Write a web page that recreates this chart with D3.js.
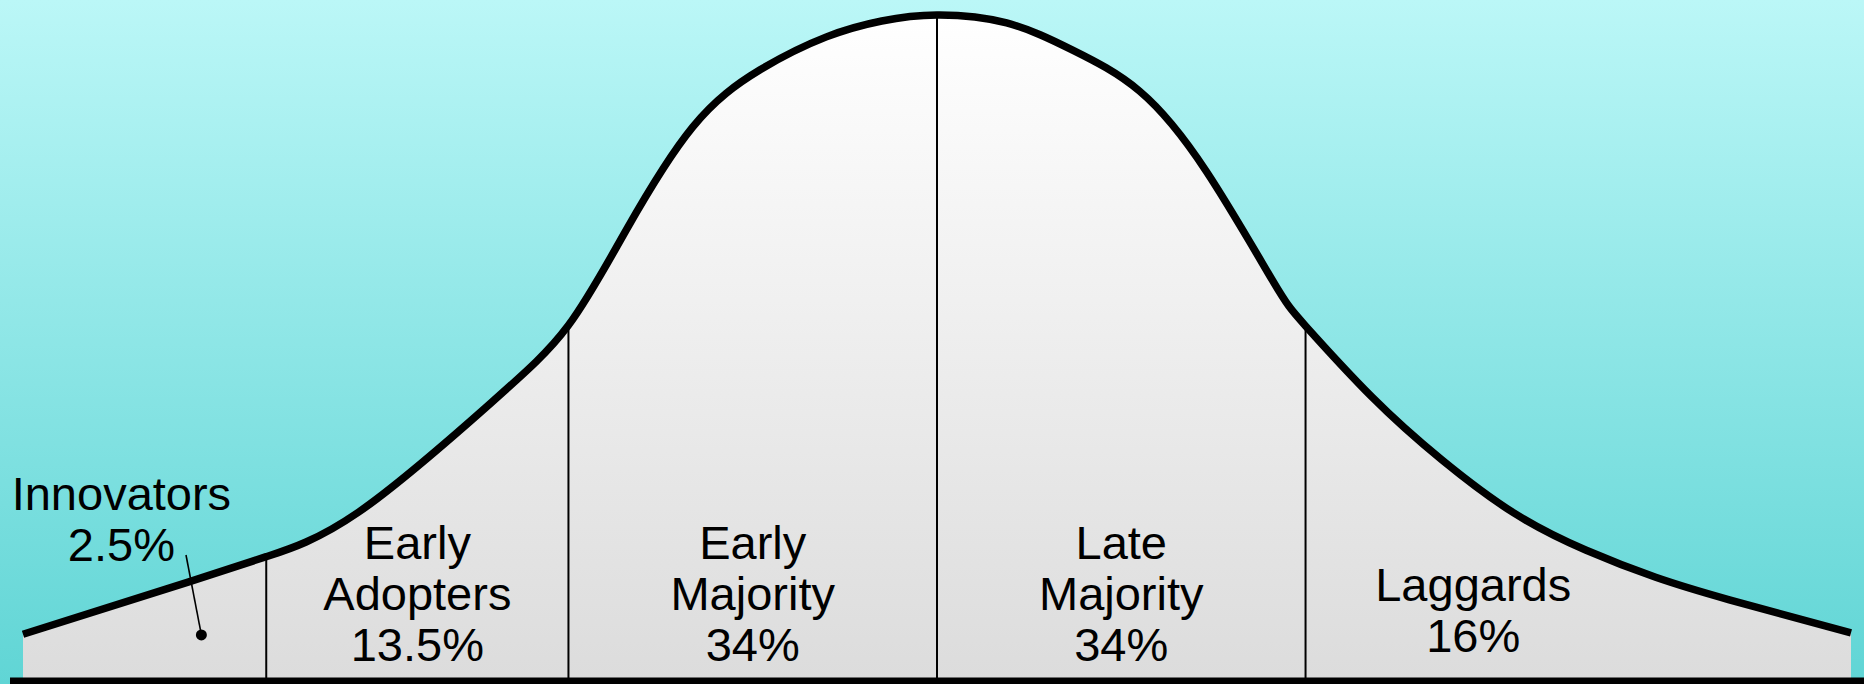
<!DOCTYPE html>
<html>
<head>
<meta charset="utf-8">
<script src="https://cdn.jsdelivr.net/npm/d3@7"></script>
<style>
  html, body { margin: 0; padding: 0; overflow: hidden; background: #fff; }
  svg { display: block; }
  text { font-family: "Liberation Sans", Arial, sans-serif; fill: #000; }
</style>
</head>
<body>
<svg id="chart"></svg>
<script>
// Adoption curve: x in standard deviations, y as share of peak height
const curveX = [-2.48, -2.03, -1.82, -1.57, -1.21, -1.00, -0.843, -0.663, -0.481, -0.30, -0.15, 0,
                0.189, 0.368, 0.55, 0.731, 0.91, 1.00, 1.18, 1.37, 1.565, 1.76, 1.95, 2.15, 2.48];
const curveY = [0.066, 0.145, 0.183, 0.250, 0.415, 0.532, 0.676, 0.831, 0.917, 0.967, 0.991, 1.0,
                0.988, 0.947, 0.885, 0.764, 0.600, 0.531, 0.424, 0.329, 0.249, 0.193, 0.152, 0.118, 0.068];

// segment boundaries (same x units)
const dividers = [-1.82, -1, 0, 1];

const groups = [["Innovators"], ["Early", "Adopters"], ["Early", "Majority"], ["Late", "Majority"], ["Laggards"]];
const shares = ["2.5%", "13.5%", "34%", "34%", "16%"];

(function(){
  const W = 1864, H = 684;
  const svg = d3.select('#chart').attr('width', W).attr('height', H);

  const x = d3.scaleLinear().domain([-2.48, 2.48]).range([23, 1851]);
  const y = d3.scaleLinear().domain([0, 1]).range([678, 15]);

  const defs = svg.append('defs');
  const bg = defs.append('linearGradient').attr('id', 'bg')
    .attr('x1', 0).attr('y1', 0).attr('x2', 0).attr('y2', 1);
  bg.append('stop').attr('offset', '0%').attr('stop-color', '#bbf7f7');
  bg.append('stop').attr('offset', '100%').attr('stop-color', '#60d5d5');

  const fillGrad = defs.append('linearGradient').attr('id', 'fillGrad')
    .attr('gradientUnits', 'userSpaceOnUse')
    .attr('x1', 0).attr('y1', y(1)).attr('x2', 0).attr('y2', y(0));
  fillGrad.append('stop').attr('offset', '0%').attr('stop-color', '#ffffff');
  fillGrad.append('stop').attr('offset', '100%').attr('stop-color', '#dcdcdc');

  svg.append('rect').attr('width', W).attr('height', H).attr('fill', 'url(#bg)');

  const pts = curveX.map((v, i) => [v, curveY[i]]);

  // area under curve
  const area = d3.area()
    .x(d => x(d[0]))
    .y0(y(0))
    .y1(d => y(d[1]))
    .curve(d3.curveNatural);
  svg.append('path').datum(pts)
    .attr('d', area)
    .attr('fill', 'url(#fillGrad)');

  // dividers from baseline up to the curve
  svg.append('g').selectAll('line')
    .data(dividers)
    .join('line')
    .attr('x1', d => x(d)).attr('x2', d => x(d))
    .attr('y1', y(0))
    .attr('y2', d => y(curveY[curveX.indexOf(d)]))
    .attr('stroke', '#000')
    .attr('stroke-width', 2);

  // curve outline
  const line = d3.line()
    .x(d => x(d[0]))
    .y(d => y(d[1]))
    .curve(d3.curveNatural);
  svg.append('path').datum(pts)
    .attr('d', line)
    .attr('fill', 'none')
    .attr('stroke', '#000')
    .attr('stroke-width', 7.5)
    .attr('stroke-linejoin', 'round');

  // baseline
  svg.append('line')
    .attr('x1', 10).attr('x2', W)
    .attr('y1', y(0) + 3).attr('y2', y(0) + 3)
    .attr('stroke', '#000').attr('stroke-width', 7);

  // label placement (x in curve units, first baseline in px)
  const labelPos = [
    {cx: -2.213, top: 510},
    {cx: -1.41, top: 559},
    {cx: -0.5, top: 559},
    {cx: 0.5, top: 559},
    {cx: 1.455, top: 601}
  ];
  const lh = 51;

  const labels = svg.append('g')
    .attr('font-size', 47)
    .attr('text-anchor', 'middle');

  groups.forEach((lines, i) => {
    const p = labelPos[i];
    const t = labels.append('text')
      .attr('x', x(p.cx)).attr('y', p.top);
    lines.concat([shares[i]]).forEach((s, j) => {
      t.append('tspan')
        .attr('x', x(p.cx))
        .attr('y', p.top + j * lh)
        .text(s);
    });
  });

  // leader from the Innovators label into its slice
  const dot = [-1.996, 0.065];
  svg.append('line')
    .attr('x1', 186).attr('y1', 555)
    .attr('x2', x(dot[0])).attr('y2', y(dot[1]))
    .attr('stroke', '#000').attr('stroke-width', 1.6);
  svg.append('circle')
    .attr('cx', x(dot[0])).attr('cy', y(dot[1]))
    .attr('r', 5.5).attr('fill', '#000');
})();
</script>
</body>
</html>
